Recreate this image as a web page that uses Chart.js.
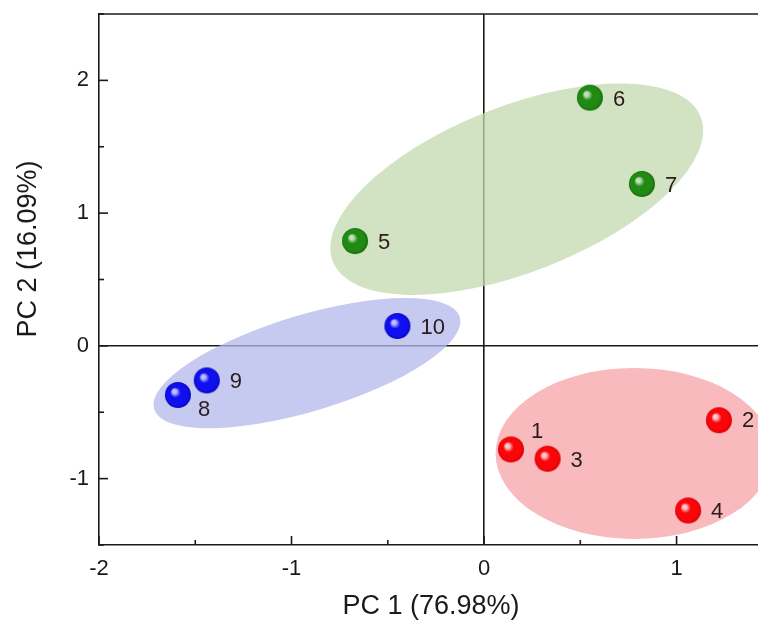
<!DOCTYPE html>
<html>
<head>
<meta charset="utf-8">
<script src="https://cdn.jsdelivr.net/npm/chart.js@4.4.1/dist/chart.umd.min.js"></script>
<style>
  html, body { margin: 0; padding: 0; background: #fff; }
  #wrap { width: 758px; height: 623px; }
</style>
</head>
<body>
<div id="wrap"><canvas id="pcaChart" width="758" height="623"></canvas></div>
<script>
// sample scores
var groupRedIds = ['1', '2', '3', '4'];
var groupRedPC1 = [0.14, 1.22, 0.33, 1.06];
var groupRedPC2 = [-0.78, -0.56, -0.85, -1.24];

var groupGreenIds = ['5', '6', '7'];
var groupGreenPC1 = [-0.67, 0.55, 0.82];
var groupGreenPC2 = [0.79, 1.87, 1.22];

var groupBlueIds = ['8', '9', '10'];
var groupBluePC1 = [-1.59, -1.44, -0.45];
var groupBluePC2 = [-0.37, -0.26, 0.15];

// confidence ellipses: centre and two conjugate semi-axes (data units)
var ellipseCenterX = [0.78, 0.17, -0.92];
var ellipseCenterY = [-0.81, 1.18, -0.13];
var ellipseAxisU = [[0.72, 0], [0.955, 0.546], [0.794, 0.346]];
var ellipseAxisV = [[0, 0.644], [0.16, -0.58], [0.072, -0.347]];
var ellipseFill = ['rgba(246,163,167,0.75)', 'rgba(195,218,175,0.75)', 'rgba(179,183,235,0.75)'];

var xTicksRange = [-2, 1.423];
var yTicksRange = [-1.5, 2.5];
var xTitle = 'PC 1 (76.98%)';
var yTitle = 'PC 2 (16.09%)';

var FONT = '"Liberation Sans", Arial, sans-serif';
var INK = '#1a1a1a';

function makePoints(xs, ys) {
    return xs.map(function (x, i) { return { x: x, y: ys[i] }; });
}

function sphere(base, dark, hi) {
    var s = 28, r = 13;
    var c = document.createElement('canvas');
    c.width = s; c.height = s;
    var g = c.getContext('2d');
    var grad = g.createRadialGradient(s / 2 - 4, s / 2 - 4, 0.5, s / 2, s / 2, r);
    grad.addColorStop(0, hi);
    grad.addColorStop(0.12, hi);
    grad.addColorStop(0.38, base);
    grad.addColorStop(0.82, base);
    grad.addColorStop(1, dark);
    g.fillStyle = grad;
    g.beginPath();
    g.arc(s / 2, s / 2, r, 0, Math.PI * 2);
    g.fill();
    return c;
}

// label offsets from the point centre (px)
var labelOffsets = {
    '1': [20, -17], '2': [23, 1], '3': [23, 2], '4': [23, 1],
    '5': [23, 2], '6': [23, 2], '7': [23, 2],
    '8': [20, 15], '9': [23, 2], '10': [23, 2]
};

var ellipsePlugin = {
    id: 'ellipses',
    beforeDatasetsDraw: function (chart) {
        var ctx = chart.ctx, xs = chart.scales.x, ys = chart.scales.y, a = chart.chartArea;
        ctx.save();
        ctx.beginPath();
        ctx.rect(a.left, a.top, a.right - a.left, a.bottom - a.top);
        ctx.clip();
        for (var i = 0; i < ellipseCenterX.length; i++) {
            var cx = xs.getPixelForValue(ellipseCenterX[i]);
            var cy = ys.getPixelForValue(ellipseCenterY[i]);
            var ux = xs.getPixelForValue(ellipseCenterX[i] + ellipseAxisU[i][0]) - cx;
            var uy = ys.getPixelForValue(ellipseCenterY[i] + ellipseAxisU[i][1]) - cy;
            var vx = xs.getPixelForValue(ellipseCenterX[i] + ellipseAxisV[i][0]) - cx;
            var vy = ys.getPixelForValue(ellipseCenterY[i] + ellipseAxisV[i][1]) - cy;
            ctx.beginPath();
            ctx.save();
            ctx.transform(ux, uy, vx, vy, cx, cy);
            ctx.arc(0, 0, 1, 0, Math.PI * 2);
            ctx.restore();
            ctx.fillStyle = ellipseFill[i];
            ctx.fill();
        }
        ctx.restore();
    }
};

var framePlugin = {
    id: 'frame',
    afterDraw: function (chart) {
        var ctx = chart.ctx, a = chart.chartArea;
        ctx.save();
        ctx.strokeStyle = INK;
        ctx.lineWidth = 1.6;
        // top border
        ctx.beginPath();
        ctx.moveTo(a.left - 0.8, a.top);
        ctx.lineTo(a.right, a.top);
        ctx.stroke();
        // inward tick marks
        chart.scales.x.ticks.forEach(function (t) {
            var px = chart.scales.x.getPixelForValue(t.value);
            var len = Number.isInteger(t.value) ? 9 : 5;
            ctx.beginPath();
            ctx.moveTo(px, a.bottom);
            ctx.lineTo(px, a.bottom - len);
            ctx.stroke();
        });
        chart.scales.y.ticks.forEach(function (t) {
            var py = chart.scales.y.getPixelForValue(t.value);
            var len = Number.isInteger(t.value) ? 9 : 5;
            ctx.beginPath();
            ctx.moveTo(a.left, py);
            ctx.lineTo(a.left + len, py);
            ctx.stroke();
        });
        // axis titles
        ctx.fillStyle = INK;
        ctx.font = '27px ' + FONT;
        ctx.textAlign = 'center';
        ctx.textBaseline = 'middle';
        ctx.fillText(xTitle, 431, 607);
        ctx.save();
        ctx.translate(29, 249);
        ctx.rotate(-Math.PI / 2);
        ctx.fillText(yTitle, 0, 0);
        ctx.restore();
        // point labels
        ctx.font = '22px ' + FONT;
        ctx.fillStyle = '#2a1c1c';
        ctx.textAlign = 'left';
        ctx.textBaseline = 'middle';
        chart.data.datasets.forEach(function (ds, di) {
            var meta = chart.getDatasetMeta(di);
            meta.data.forEach(function (el, i) {
                var id = ds.ids[i];
                var off = labelOffsets[id];
                ctx.fillText(id, el.x + off[0], el.y + off[1]);
            });
        });
        ctx.restore();
    }
};

function zeroLine(c) {
    return c.tick && c.tick.value === 0 ? INK : 'rgba(0,0,0,0)';
}

function intLabel(v) {
    return Number.isInteger(v) ? v : '';
}

function noPad(s) {
    s.paddingTop = 0; s.paddingBottom = 0; s.paddingLeft = 0; s.paddingRight = 0;
}

var ctx = document.getElementById('pcaChart').getContext('2d');
var myChart = new Chart(ctx, {
    type: 'scatter',
    data: {
        datasets: [
            {
                ids: groupRedIds,
                data: makePoints(groupRedPC1, groupRedPC2),
                pointStyle: sphere('rgb(250,5,10)', 'rgb(215,0,0)', 'rgb(255,200,205)')
            },
            {
                ids: groupGreenIds,
                data: makePoints(groupGreenPC1, groupGreenPC2),
                pointStyle: sphere('rgb(32,138,18)', 'rgb(22,105,12)', 'rgb(195,225,190)')
            },
            {
                ids: groupBlueIds,
                data: makePoints(groupBluePC1, groupBluePC2),
                pointStyle: sphere('rgb(15,15,240)', 'rgb(8,8,185)', 'rgb(190,190,255)')
            }
        ]
    },
    options: {
        responsive: false,
        animation: false,
        events: [],
        layout: { autoPadding: false, padding: { top: 14, right: 0, left: 0, bottom: 0 } },
        plugins: { legend: { display: false }, tooltip: { enabled: false } },
        scales: {
            x: {
                type: 'linear',
                min: xTicksRange[0],
                max: xTicksRange[1],
                afterFit: function (s) { s.height = 78; noPad(s); },
                ticks: {
                    stepSize: 0.5,
                    includeBounds: false,
                    autoSkip: false,
                    maxRotation: 0,
                    padding: 11,
                    color: INK,
                    font: { family: FONT, size: 22 },
                    callback: intLabel
                },
                grid: { drawTicks: false, color: zeroLine, lineWidth: 1.6 },
                border: { display: true, color: INK, width: 1.6 }
            },
            y: {
                type: 'linear',
                min: yTicksRange[0],
                max: yTicksRange[1],
                afterFit: function (s) { s.width = 99; noPad(s); },
                ticks: {
                    stepSize: 0.5,
                    includeBounds: false,
                    autoSkip: false,
                    padding: 10,
                    color: INK,
                    font: { family: FONT, size: 22 },
                    callback: intLabel
                },
                grid: { drawTicks: false, color: zeroLine, lineWidth: 1.6 },
                border: { display: true, color: INK, width: 1.6 }
            }
        },
        elements: { point: { radius: 13, hoverRadius: 13 } }
    },
    plugins: [ellipsePlugin, framePlugin]
});
</script>
</body>
</html>
